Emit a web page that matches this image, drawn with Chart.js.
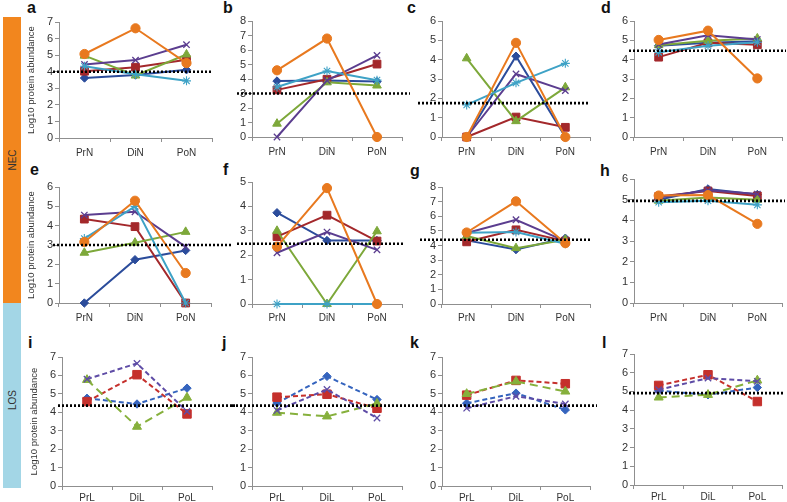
<!DOCTYPE html>
<html><head><meta charset="utf-8">
<script src="https://cdn.jsdelivr.net/npm/chart.js@4.4.1/dist/chart.umd.min.js"></script>
<style>
body{margin:0;background:#fff;width:787px;height:502px;position:relative;overflow:hidden;font-family:"Liberation Sans",Arial,sans-serif}
canvas{position:absolute}
.letter{position:absolute;font-weight:bold;font-size:16px;color:#111;line-height:1}
.side{position:absolute;left:3px;width:18px}
.sideText{position:absolute;left:12px;transform:translate(-50%,-50%) rotate(-90deg);font-size:10px;color:#333;white-space:nowrap}
</style></head><body>
<div class="side" style="top:17px;height:286px;background:#F2861E"></div>
<div class="side" style="top:303px;height:185px;background:#A3D6E6"></div>
<div class="sideText" style="top:160px">NEC</div>
<div class="sideText" style="top:400px">LOS</div>
<script>
// ---------- data ----------
const necCategories = ['PrN', 'DiN', 'PoN'];
const losCategories = ['PrL', 'DiL', 'PoL'];
const panelLetters = ['a','b','c','d','e','f','g','h','i','j','k','l'];
const yAxisMax = [7, 8, 6, 6, 6, 5, 8, 6, 7, 7, 7, 7];
const thresholds = [4.0, 3.0, 1.75, 4.46, 3.0, 2.47, 4.39, 4.94, 4.36, 4.36, 4.36, 4.91];
const yAxisTitle = 'Log10 protein abundance';

// NEC series order: blue diamond, red square, green triangle, purple cross, cyan star, orange circle
const valuesA = [[3.62,3.8,4.12],[4.03,4.27,4.72],[4.97,3.77,5.04],[4.44,4.7,5.63],[4.33,3.85,3.45],[5.07,6.62,4.52]];
const valuesB = [[3.86,3.9,3.82],[3.25,3.98,5.03],[0.92,3.77,3.55],[0,3.9,5.63],[3.45,4.55,3.92],[4.6,6.79,0]];
const valuesC = [[0,4.18,0],[0,1.03,0.5],[4.07,0.82,2.57],[0,3.26,2.4],[1.66,2.8,3.81],[0,4.87,0]];
const valuesD = [[4.72,4.88,4.95],[4.13,4.87,4.77],[4.75,4.98,5.1],[4.78,5.26,5.04],[4.38,4.72,4.9],[5.02,5.5,3.03]];
const valuesE = [[0,2.24,2.72],[4.34,3.95,0],[2.6,3.12,3.68],[4.55,4.72,2.9],[3.33,5.0,0],[3.16,5.29,1.55]];
const valuesF = [[3.74,2.6,2.6],[2.76,3.64,2.58],[3.0,0,2.98],[2.1,2.95,2.22],[0,0,0],[2.35,4.75,0]];
const valuesG = [[4.35,3.72,4.5],[4.25,5.07,4.3],[4.65,3.82,4.4],[4.85,5.76,4.3],[4.88,4.92,4.12],[4.89,7.02,4.16]];
const valuesH = [[5.0,5.52,5.25],[5.15,5.42,5.18],[4.95,5.1,5.0],[5.1,5.45,5.27],[4.88,4.95,4.75],[5.2,5.22,3.83]];
// LOS series order: blue diamond, red square, green triangle, purple cross
const valuesI = [[4.76,4.45,5.31],[4.58,6.04,3.91],[5.76,3.22,4.8],[5.8,6.65,4.05]];
const valuesJ = [[4.5,5.95,4.69],[4.82,4.98,4.22],[3.98,3.78,4.47],[4.1,5.24,3.69]];
const valuesK = [[4.49,5.04,4.13],[4.93,5.73,5.55],[5.0,5.67,5.13],[4.22,4.87,4.45]];
const valuesL = [[5.04,4.82,5.21],[5.32,5.89,4.46],[4.68,4.82,5.59],[5.09,5.71,5.54]];
const panelValues = [valuesA,valuesB,valuesC,valuesD,valuesE,valuesF,valuesG,valuesH,valuesI,valuesJ,valuesK,valuesL];

// ---------- styles / layout ----------
const necStyles = [
  {color:'#2B4C9B', shape:'rectRot', r:4.2, bw:1},
  {color:'#A3282B', shape:'rect', r:5.5, bw:1},
  {color:'#7DA83A', shape:'triangle', r:5, bw:1},
  {color:'#5B3D8F', shape:'crossRot', r:4.5, bw:1.3},
  {color:'#3EA2C6', shape:'star', r:4.5, bw:1.1},
  {color:'#E8791F', shape:'circle', r:4.6, bw:1}
];
const losStyles = [
  {color:'#3564BE', shape:'rectRot', r:4.2, bw:1, dash:[5,3]},
  {color:'#C5302C', shape:'rect', r:6, bw:1, dash:[5,3]},
  {color:'#86B03C', shape:'triangle', r:5.2, bw:1, dash:[8,5]},
  {color:'#5E4CA6', shape:'crossRot', r:4.5, bw:1.3, dash:[5,3]}
];
// [axisLeft, axisRight, topTickY, zeroY, dottedLeftExt, dottedRightExt, xLabelPadding]
const geometry = [
  [59,212,21.5,137,-6,0,5],[252,402,21,137,-15,8,5],[442,590,21,137,-24,0,5],[634,782,21,137,-5,4,5],
  [59,211,187,303,-6,22,5],[252,402,182,304,-15,1,4],[442,590,187,304,-22,2,4],[634,782,179,303,-6,3,5],
  [62,212,356.5,485,-4,23,2],[252,402,356.5,485,-20,20,2],[442,590,356.5,485,-18,7,2],[634,782,354,485,-5,3,2]
];
const letterPos = [[27,-0.5],[223,-0.5],[407,-0.5],[601,-0.5],[30,162],[223,162],[410,163],[600,163],[28,334.5],[222,334.5],[410,334.5],[602,334.5]];

Chart.defaults.font.family = '"Liberation Sans", Arial, sans-serif';

const thresholdPlugin = {
  id: 'threshold',
  afterDraw(chart, args, opts) {
    const {ctx, chartArea, scales} = chart;
    const yy = scales.y.getPixelForValue(opts.value);
    ctx.save();
    ctx.strokeStyle = '#000';
    ctx.lineWidth = 2.6;
    ctx.setLineDash([2, 2]);
    ctx.beginPath();
    ctx.moveTo(chartArea.left + opts.dl, yy);
    ctx.lineTo(chartArea.right + opts.dr, yy);
    ctx.stroke();
    ctx.restore();
  }
};

panelLetters.forEach((letter, i) => {
  const d = document.createElement('div');
  d.className = 'letter';
  d.textContent = letter;
  d.style.left = letterPos[i][0] + 'px';
  d.style.top = letterPos[i][1] + 'px';
  document.body.appendChild(d);
});

function makeChart(i) {
  const [L, R, T, B, dl, dr, xpad] = geometry[i];
  const col = i % 4;
  const yw = 40, xh = 26, padTop = 10, padRight = 26;
  const w = R - L + yw + padRight, h = Math.round(B - T + padTop + xh);
  const c = document.createElement('canvas');
  c.width = w; c.height = h;
  c.style.left = (L - yw) + 'px';
  c.style.top = (T - padTop) + 'px';
  c.style.width = w + 'px'; c.style.height = h + 'px';
  document.body.appendChild(c);
  const isLos = i >= 8;
  const styles = isLos ? losStyles : necStyles;
  const datasets = panelValues[i].map((v, k) => ({
    data: v,
    borderColor: styles[k].color,
    backgroundColor: styles[k].color,
    pointStyle: styles[k].shape,
    pointRadius: styles[k].r,
    pointBorderWidth: styles[k].bw,
    borderWidth: 2,
    borderDash: isLos ? styles[k].dash : [],
    tension: 0,
    clip: false,
    order: -k
  }));
  const axisColor = '#8f8f8f';
  new Chart(c, {
    type: 'line',
    data: {labels: isLos ? losCategories : necCategories, datasets},
    options: {
      responsive: false, animation: false, devicePixelRatio: 1,
      layout: {padding: {top: padTop, right: padRight, left: 0, bottom: 0}},
      plugins: {legend: {display: false}, tooltip: {enabled: false},
        threshold: {value: thresholds[i], dl, dr}},
      scales: {
        x: {
          offset: true,
          grid: {offset: true, drawOnChartArea: false, drawTicks: true, tickLength: 4, color: axisColor},
          border: {color: axisColor},
          ticks: {color: '#333', font: {size: 10}, padding: xpad, maxRotation: 0, autoSkip: false},
          afterFit(s) { s.height = xh; }
        },
        y: {
          min: 0, max: yAxisMax[i],
          grid: {drawOnChartArea: false, drawTicks: true, tickLength: 4, color: axisColor},
          border: {color: axisColor},
          ticks: {stepSize: 1, autoSkip: false, color: '#333', font: {size: 11}, padding: 2},
          title: {display: col === 0, text: yAxisTitle, color: '#333', font: {size: 9.5}, padding: {top: 7, bottom: 0}},
          afterFit(s) { s.width = yw; }
        }
      }
    },
    plugins: [thresholdPlugin]
  });
}
for (let i = 0; i < 12; i++) makeChart(i);
</script>
</body></html>
